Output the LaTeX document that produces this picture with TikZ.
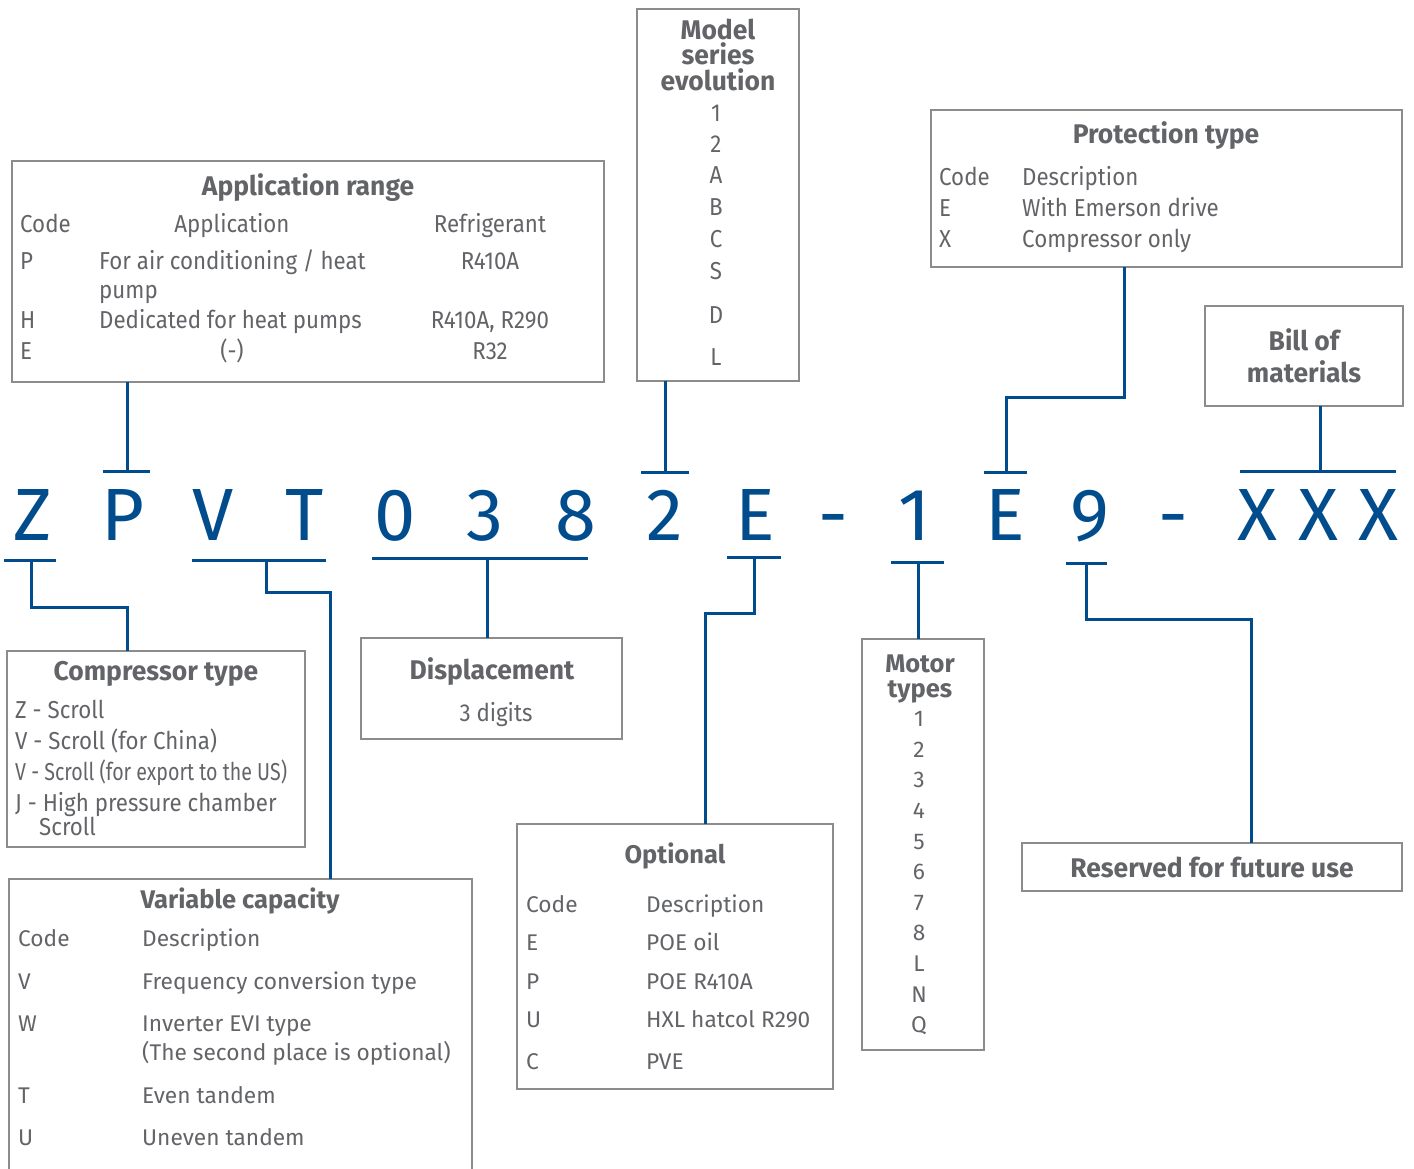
\documentclass[tikz,border=0pt]{standalone}
\usepackage{fontspec}
\setmainfont{Fira Sans}
\newfontfamily\condfont[FakeStretch=0.91]{Fira Sans}
\newfontfamily\headfont[FakeStretch=0.98]{Fira Sans}
\usetikzlibrary{positioning}

\definecolor{codeblue}{RGB}{0,76,140}
\definecolor{txtgray}{RGB}{99,100,104}
\definecolor{boxgray}{RGB}{140,140,140}

\tikzset{
  box/.style={draw=boxgray, line width=1.5pt, inner sep=0pt, outer sep=0pt},
  wire/.style={draw=codeblue, line width=3pt},
  codeletter/.style={text=codeblue, font=\fontsize{74}{74}\selectfont, anchor=base, inner sep=0pt},
  ctitle/.style={text=txtgray, font=\headfont\bfseries\fontsize{27}{27}\selectfont, anchor=base, inner sep=0pt,
    text height=19pt, text depth=4pt},
  ctext/.style={text=txtgray, font=\condfont\fontsize{24.5}{25}\selectfont, anchor=base west, inner sep=0pt},
  rtitle/.style={text=txtgray, font=\bfseries\fontsize{25.5}{25}\selectfont, anchor=base, inner sep=0pt,
    text height=18pt, text depth=4pt},
  rtext/.style={text=txtgray, font=\fontsize{22.7}{24}\selectfont, anchor=base west, inner sep=0pt},
}

\begin{document}
\begin{tikzpicture}[x=1pt, y=-1pt]
    \useasboundingbox (0,0) rectangle (1414,1168);

    % the code itself
    \foreach \n/\t/\x in {Z/Z/33, P/P/123, V/V/213, T/T/305, a/0/395, b/3/485, c/8/576,
        d/2/665, E/E/755, dashA/-/833, e/1/915, F/E/1005, f/9/1090, dashB/-/1173,
        X/X/1257, Y/X/1318, W/X/1378}
        \node[codeletter] (c\n) at (\x,540) {\t};

    % boxes
    \node[box, minimum width=592, minimum height=221] (apprange) at (308,271.5) {};
    \node[box, minimum width=162, minimum height=372] (series) at (718,195) {};
    \node[box, minimum width=471, minimum height=157] (protect) at (1166.5,188.5) {};
    \node[box, minimum width=198, minimum height=100] (bom) at (1304,356) {};
    \node[box, minimum width=298, minimum height=196] (comptype) at (156,749) {};
    \node[box, minimum width=261, minimum height=101] (displ) at (491.5,688.5) {};
    \node[box, minimum width=463, minimum height=301] (varcap) at (240.5,1029.5) {};
    \node[box, minimum width=316, minimum height=265] (option) at (675,956.5) {};
    \node[box, minimum width=122, minimum height=411] (motor) at (923,844.5) {};
    \node[box, minimum width=380, minimum height=48] (reserved) at (1212,867) {};

    % Application range
    \node[ctitle] (apptitle) at (308,195) {Application range};
    \node[ctext] (appcode) at (20,232) {Code};
    \node[ctext, anchor=base] (appappl) at (232,232) {Application};
    \node[ctext, anchor=base] (apprefr) at (490,232) {Refrigerant};
    \node[ctext] (appP) at (20,269) {P};
    \node[ctext] (appPd) at (99,269) {For air conditioning / heat};
    \node[ctext] (appPe) at (99,298) {pump};
    \node[ctext, anchor=base] (appPr) at (490,269) {R410A};
    \node[ctext] (appH) at (20,328) {H};
    \node[ctext] (appHd) at (99,328) {Dedicated for heat pumps};
    \node[ctext, anchor=base] (appHr) at (490,328) {R410A, R290};
    \node[ctext] (appE) at (20,359) {E};
    \node[ctext, anchor=base] (appEd) at (232,359) {(-)};
    \node[ctext, anchor=base] (appEr) at (490,359) {R32};

    % Model series evolution
    \node[ctitle] (sertitleA) at (718,39) {Model};
    \node[ctitle] (sertitleB) at (718,64) {series};
    \node[ctitle] (sertitleC) at (718,90) {evolution};
    \foreach \t/\y in {1/113, 2/144, A/175, B/207, C/239, S/271, D/315, L/357}
        \node[ctext, anchor=base] (ser\t) at (716,\y+8) {\t};

    % Protection type
    \node[ctitle] (prottitle) at (1166,143) {Protection type};
    \node[ctext] (protcode) at (939,185) {Code};
    \node[ctext] (protdesc) at (1022,185) {Description};
    \node[ctext] (protE) at (939,216) {E};
    \node[ctext] (protEd) at (1022,216) {With Emerson drive};
    \node[ctext] (protX) at (939,247) {X};
    \node[ctext] (protXd) at (1022,247) {Compressor only};

    % Bill of materials
    \node[ctitle] (bomA) at (1304,350) {Bill of};
    \node[ctitle] (bomB) at (1304,382) {materials};

    % Compressor type
    \node[ctitle] (comptitle) at (156,680) {Compressor type};
    \node[ctext] (compZ) at (15,718) {Z - Scroll};
    \node[ctext] (compV) at (15,749) {V - Scroll (for China)};
    \node[ctext] (compU) at (15,780) {\addfontfeature{FakeStretch=0.8}V - Scroll (for export to the US)};
    \node[ctext] (compJ) at (15,811) {J - High pressure chamber};
    \node[ctext] (compJb) at (39,835) {Scroll};

    % Displacement
    \node[ctitle] (distitle) at (492,679) {Displacement};
    \node[ctext, anchor=base] (disdig) at (496,721) {3 digits};

    % Variable capacity
    \node[rtitle] (vartitle) at (240,908) {Variable capacity};
    \node[rtext] (varcode) at (18,946) {Code};
    \node[rtext] (vardesc) at (142,946) {Description};
    \node[rtext] (varV) at (18,989) {V};
    \node[rtext] (varVd) at (142,989) {Frequency conversion type};
    \node[rtext] (varW) at (18,1031) {W};
    \node[rtext] (varWd) at (142,1031) {Inverter EVI type};
    \node[rtext] (varWe) at (142,1060) {(The second place is optional)};
    \node[rtext] (varT) at (18,1103) {T};
    \node[rtext] (varTd) at (142,1103) {Even tandem};
    \node[rtext] (varU) at (18,1145) {U};
    \node[rtext] (varUd) at (142,1145) {Uneven tandem};

    % Optional
    \node[rtitle] (opttitle) at (675,863) {Optional};
    \node[rtext] (optcode) at (526,912) {Code};
    \node[rtext] (optdesc) at (646,912) {Description};
    \foreach \c/\d/\y in {E/POE oil/950, P/POE R410A/989, U/HXL hatcol R290/1027, C/PVE/1069} {
        \node[rtext] (opt\c) at (526,\y) {\c};
        \node[rtext] (opt\c d) at (646,\y) {\d};
    }

    % Motor types
    \node[rtitle] (motA) at (920,672) {Motor};
    \node[rtitle] (motB) at (920,697) {types};
    \foreach \t [count=\i] in {1,2,3,4,5,6,7,8,L,N,Q}
        \node[rtext, anchor=base] (mot\t) at (919,{696+\i*30.6}) {\t};

    % Reserved
    \node[ctitle] (restitle) at (1212,877) {Reserved for future use};

    % bars over the code
    \coordinate (tP) at (127,471);
    \coordinate (tS) at (665,472);
    \coordinate (tE) at (1006,472);
    \coordinate (tX) at (1320,471);
    \draw[wire] ([xshift=-24]tP) -- ([xshift=23]tP);
    \draw[wire] ([xshift=-24]tS) -- ([xshift=24]tS);
    \draw[wire] ([xshift=-22]tE) -- ([xshift=21]tE);
    \draw[wire] (1240,471) -- (1396,471);
    \draw[wire] (apprange.south -| tP) -- (tP);
    \draw[wire] (series.south -| tS) -- (tS);
    \draw[wire] (protect.south -| 1124,0) -- (1124,397) -| (tE);
    \draw[wire] (bom.south -| tX) -- (tX);

    % bars under the code
    \coordinate (bZ) at (31,560);
    \coordinate (bV) at (266,560);
    \coordinate (bD) at (487,558);
    \coordinate (bE) at (754,557);
    \coordinate (bM) at (918,562);
    \coordinate (bN) at (1086,563);
    \draw[wire] (4,560) -- (56,560);
    \draw[wire] (192,560) -- (326,560);
    \draw[wire] (372,558) -- (588,558);
    \draw[wire] (727,557) -- (781,557);
    \draw[wire] (891,562) -- (944,562);
    \draw[wire] (1066,563) -- (1107,563);
    \draw[wire] (bZ) -- (31,607) -| (comptype.north -| 127,0);
    \draw[wire] (bV) -- (266,592) -| (varcap.north -| 330,0);
    \draw[wire] (bD) -- (displ.north -| bD);
    \draw[wire] (bE) -- (754,613) -| (option.north -| 705,0);
    \draw[wire] (bM) -- (motor.north -| bM);
    \draw[wire] (bN) -- (1086,619) -| (reserved.north -| 1251,0);
\end{tikzpicture}
\end{document}
